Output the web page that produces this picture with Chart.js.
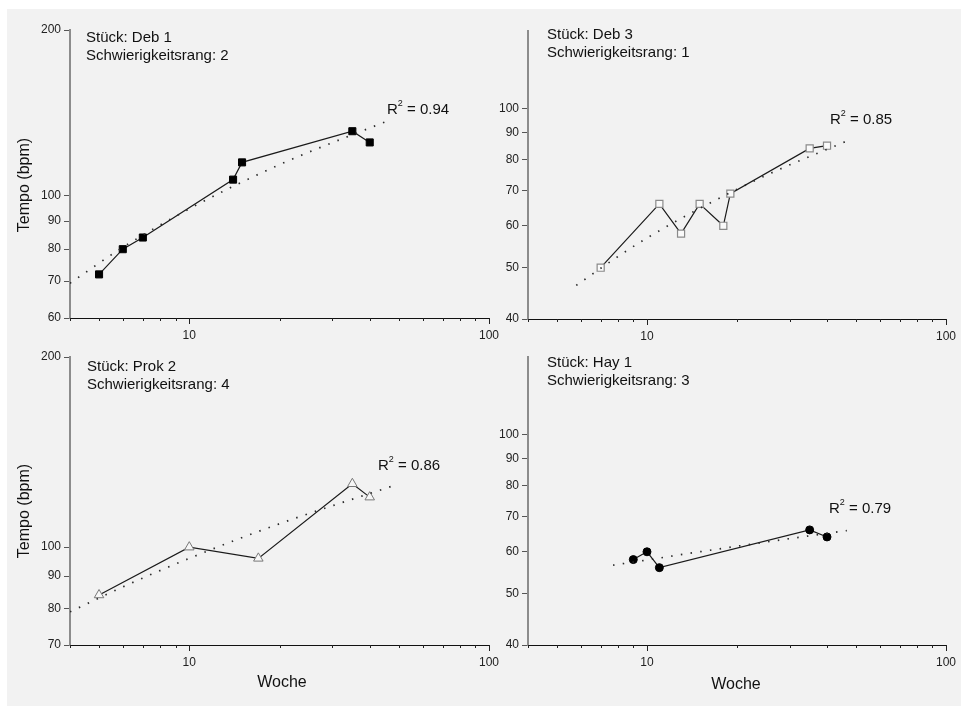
<!DOCTYPE html>
<html>
<head>
<meta charset="utf-8">
<script src="https://cdn.jsdelivr.net/npm/chart.js@4.4.1/dist/chart.umd.min.js"></script>
<style>
  html, body { margin: 0; padding: 0; background: #fff; }
  #wrap { position: relative; width: 961px; height: 714px; overflow: hidden; }
  #bg { position: absolute; left: 7px; top: 9px; right: 0; bottom: 8px; background: #f2f2f2; }
  canvas { position: absolute; }
</style>
</head>
<body>
<div id="wrap">
  <div id="bg"></div>
  <canvas id="c1"></canvas>
  <canvas id="c2"></canvas>
  <canvas id="c3"></canvas>
  <canvas id="c4"></canvas>
</div>
<script>
// ---- data ----
const deb1Weeks = [5, 6, 7, 14, 15, 35, 40];
const deb1Tempo = [72, 80, 84, 107, 115, 131, 125];
const deb1TrendWeeks = [4, 6, 10, 20, 47];
const deb1TrendTempo = [69.4, 80.6, 94.7, 113.9, 137.5];

const deb3Weeks = [7, 11, 13, 15, 18, 19, 35, 40];
const deb3Tempo = [50, 66, 58, 66, 60, 69, 84, 85];
const deb3TrendWeeks = [5.8, 8, 10, 15, 25, 46];
const deb3TrendTempo = [46.3, 52.5, 56.9, 64.7, 74.7, 86.5];

const prok2Weeks = [5, 10, 17, 35, 40];
const prok2Tempo = [84, 100, 96, 126, 120];
const prok2TrendWeeks = [4, 6, 10, 20, 48];
const prok2TrendTempo = [79.0, 86.5, 96.0, 108.9, 125.1];

const hay1Weeks = [9, 10, 11, 35, 40];
const hay1Tempo = [58, 60, 56, 66, 64];
const hay1TrendWeeks = [7.7, 10, 15, 25, 46.6];
const hay1TrendTempo = [56.6, 57.9, 60.0, 62.6, 65.8];

const xLabelTicks = [10, 100];
const xMinorTicks = [4, 5, 6, 7, 8, 9, 20, 30, 40, 50, 60, 70, 80, 90];
const yTicksDeb1 = [200, 100, 90, 80, 70, 60];
const yTicksProk2 = [200, 100, 90, 80, 70];
const yTicksLow = [100, 90, 80, 70, 60, 50, 40];

const FONT = "'Liberation Sans', Arial, Helvetica, sans-serif";
const RIGHT_PAD = 24;
const toPoints = (xs, ys) => xs.map((x, i) => ({ x: x, y: ys[i] }));

// small x ticks (major ones longer) drawn on the x scale
const xTickPlugin = {
  id: 'xTicks',
  afterDraw(chart) {
    const s = chart.scales.x;
    const ctx = chart.ctx;
    ctx.save();
    ctx.strokeStyle = '#222';
    ctx.lineWidth = 1;
    xMinorTicks.concat(xLabelTicks).forEach(v => {
      const px = Math.round(s.getPixelForValue(v)) + 0.5;
      const len = xLabelTicks.includes(v) ? 6 : 3;
      ctx.beginPath();
      ctx.moveTo(px, s.top);
      ctx.lineTo(px, s.top + len);
      ctx.stroke();
    });
    ctx.restore();
  }
};

// piece name, R² and axis titles
const notesPlugin = {
  id: 'notes',
  afterDraw(chart, args, opts) {
    const ctx = chart.ctx;
    const ox = opts.ox, oy = opts.oy;
    ctx.save();
    ctx.fillStyle = '#111';
    ctx.textBaseline = 'middle';
    ctx.font = '15px ' + FONT;
    ctx.textAlign = 'left';
    ctx.fillText(opts.title1, opts.tx - ox, opts.ty - oy);
    ctx.fillText(opts.title2, opts.tx - ox, opts.ty + 18 - oy);

    // R² = ...
    let x = opts.rx - ox;
    const y = opts.ry - oy;
    ctx.fillText('R', x, y);
    x += ctx.measureText('R').width;
    ctx.font = '9px ' + FONT;
    ctx.fillText('2', x, y - 6);
    x += ctx.measureText('2').width;
    ctx.font = '15px ' + FONT;
    ctx.fillText(' = ' + opts.r2, x, y);

    ctx.font = '16px ' + FONT;
    ctx.textAlign = 'center';
    if (opts.yTitle) {
      ctx.save();
      ctx.translate(opts.yTitle[0] - ox, opts.yTitle[1] - oy);
      ctx.rotate(-Math.PI / 2);
      ctx.fillText('Tempo (bpm)', 0, 0);
      ctx.restore();
    }
    if (opts.xTitle) {
      ctx.fillText('Woche', opts.xTitle[0] - ox, opts.xTitle[1] - oy);
    }
    ctx.restore();
  }
};

function makePanel(p) {
  const canvas = document.getElementById(p.id);
  const w = p.area.r - p.left + RIGHT_PAD;
  canvas.width = w;
  canvas.height = p.h;
  canvas.style.left = p.left + 'px';
  canvas.style.top = p.top + 'px';

  const yWidth = p.area.l - p.left;
  const xHeight = p.top + p.h - p.area.b;

  new Chart(canvas, {
    type: 'line',
    data: {
      datasets: [
        {
          data: toPoints(p.trendX, p.trendY),
          borderColor: '#2a2a2a',
          borderWidth: 1.7,
          borderDash: [1.5, 8.3],
          pointRadius: 0,
          cubicInterpolationMode: 'monotone',
          fill: false
        },
        {
          data: toPoints(p.weeks, p.tempo),
          borderColor: '#1a1a1a',
          borderWidth: 1.2,
          tension: 0,
          pointStyle: p.marker.style,
          pointRadius: p.marker.radius,
          pointBackgroundColor: p.marker.fill,
          pointBorderColor: p.marker.stroke,
          pointBorderWidth: p.marker.width,
          fill: false
        }
      ]
    },
    options: {
      responsive: false,
      animation: false,
      events: [],
      layout: { padding: { top: p.area.t - p.top, left: 0, right: RIGHT_PAD, bottom: 0 } },
      plugins: {
        legend: { display: false },
        tooltip: { enabled: false },
        notes: p.notes
      },
      scales: {
        x: {
          type: 'logarithmic',
          min: 4,
          max: 100,
          bounds: 'data',
          afterFit: s => { s.height = xHeight; },
          afterBuildTicks: s => { s.ticks = xLabelTicks.map(v => ({ value: v })); },
          grid: { display: false, drawTicks: false },
          border: { display: true, color: '#111', width: 1 },
          ticks: {
            autoSkip: false,
            maxRotation: 0,
            padding: 10,
            color: '#222',
            font: { family: FONT, size: 12 },
            callback: v => String(v)
          }
        },
        y: {
          type: 'logarithmic',
          min: p.yMin,
          max: p.yMax,
          bounds: 'data',
          afterFit: s => { s.width = yWidth; },
          afterBuildTicks: s => { s.ticks = p.yTicks.map(v => ({ value: v })); },
          grid: { drawOnChartArea: false, drawTicks: true, tickLength: 6, color: '#555', tickWidth: 1 },
          border: { display: true, color: '#8c8c8c', width: 2 },
          ticks: {
            autoSkip: false,
            padding: 3,
            color: '#222',
            font: { family: FONT, size: 12 },
            callback: v => String(v)
          }
        }
      }
    },
    plugins: [xTickPlugin, notesPlugin]
  });
}

makePanel({
  id: 'c1', left: 0, top: 0, h: 345,
  area: { l: 70, t: 30, r: 489, b: 318 },
  yMin: 60, yMax: 200, yTicks: yTicksDeb1,
  weeks: deb1Weeks, tempo: deb1Tempo, trendX: deb1TrendWeeks, trendY: deb1TrendTempo,
  marker: { style: 'rect', radius: 5, fill: '#000', stroke: '#000', width: 1 },
  notes: { ox: 0, oy: 0, title1: 'Stück: Deb 1', title2: 'Schwierigkeitsrang: 2', tx: 86, ty: 38,
           r2: '0.94', rx: 387, ry: 110, yTitle: [25, 185] }
});

makePanel({
  id: 'c2', left: 470, top: 0, h: 345,
  area: { l: 528, t: 31, r: 946, b: 319 },
  yMin: 40, yMax: 140, yTicks: yTicksLow,
  weeks: deb3Weeks, tempo: deb3Tempo, trendX: deb3TrendWeeks, trendY: deb3TrendTempo,
  marker: { style: 'rect', radius: 5, fill: '#fafafa', stroke: '#8a8a8a', width: 1.2 },
  notes: { ox: 470, oy: 0, title1: 'Stück: Deb 3', title2: 'Schwierigkeitsrang: 1', tx: 547, ty: 35,
           r2: '0.85', rx: 830, ry: 120 }
});

makePanel({
  id: 'c3', left: 0, top: 340, h: 374,
  area: { l: 70, t: 357, r: 489, b: 645 },
  yMin: 70, yMax: 200, yTicks: yTicksProk2,
  weeks: prok2Weeks, tempo: prok2Tempo, trendX: prok2TrendWeeks, trendY: prok2TrendTempo,
  marker: { style: 'triangle', radius: 5.5, fill: '#f7f7f7', stroke: '#777', width: 1 },
  notes: { ox: 0, oy: 340, title1: 'Stück: Prok 2', title2: 'Schwierigkeitsrang: 4', tx: 87, ty: 367,
           r2: '0.86', rx: 378, ry: 466, yTitle: [25, 511], xTitle: [282, 683] }
});

makePanel({
  id: 'c4', left: 470, top: 340, h: 374,
  area: { l: 528, t: 357, r: 946, b: 645 },
  yMin: 40, yMax: 140, yTicks: yTicksLow,
  weeks: hay1Weeks, tempo: hay1Tempo, trendX: hay1TrendWeeks, trendY: hay1TrendTempo,
  marker: { style: 'circle', radius: 4, fill: '#000', stroke: '#000', width: 1 },
  notes: { ox: 470, oy: 340, title1: 'Stück: Hay 1', title2: 'Schwierigkeitsrang: 3', tx: 547, ty: 363,
           r2: '0.79', rx: 829, ry: 509, xTitle: [736, 685] }
});
</script>
</body>
</html>
